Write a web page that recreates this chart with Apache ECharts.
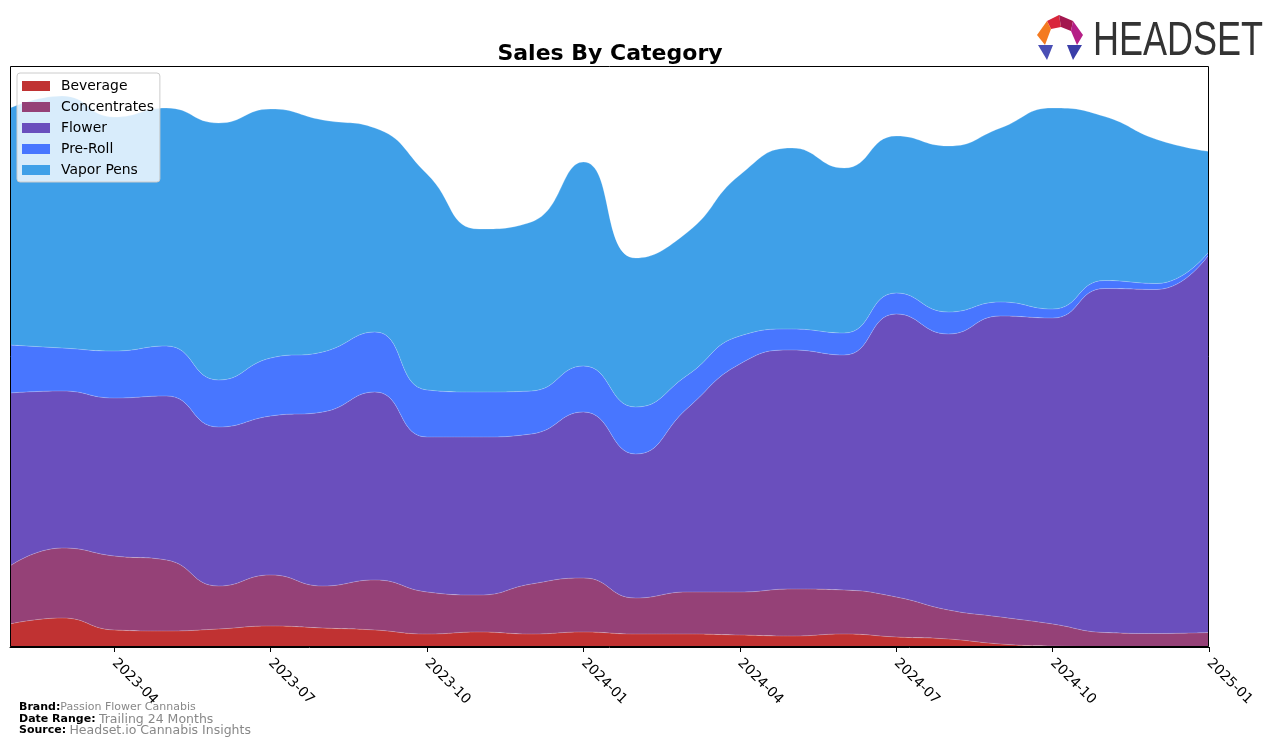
<!DOCTYPE html>
<html>
<head>
<meta charset="utf-8">
<script src="https://cdn.jsdelivr.net/npm/echarts@6/dist/echarts.min.js"></script>
<style>
html,body{margin:0;padding:0;background:#fff;}
#chart{width:1276px;height:746px;}
</style>
</head>
<body>
<div id="chart"></div>
<script>
// Monthly categories (first of month)
const months = ["2023-02","2023-03","2023-04","2023-05","2023-06","2023-07","2023-08","2023-09","2023-10","2023-11","2023-12",
  "2024-01","2024-02","2024-03","2024-04","2024-05","2024-06","2024-07","2024-08","2024-09","2024-10","2024-11","2024-12","2025-01"];
const tickMonths = ["2023-04","2023-07","2023-10","2024-01","2024-04","2024-07","2024-10","2025-01"];

// Sales by category (relative units)
const beverage    = [23,29,17,16,18,21,19,17,13,15,13,15,13,13,12,11,13,10,8,3,1,0.5,0.5,0.5];
const concentrates= [58,70,74,71,43,51,42,50,42,37,50,54,36,42,43,47,44,40,29,27,22,14,13,14];
const flower      = [173,157,158,164,159,159,174,188,155,158,150,166,144,184,228,239,235,283,276,301,306,344,344,378];
const preRoll     = [48,43,47,50,47,58,60,60,47,45,43,46,47,33,28,21,22,21,22,14,9,8,6,3];
const vaporPens   = [237,252,234,238,257,249,232,204,216,163,169,204,149,143,161,181,165,157,166,174,201,164,144,100];

const seriesNames = ["Beverage","Concentrates","Flower","Pre-Roll","Vapor Pens"];
const seriesData = [beverage, concentrates, flower, preRoll, vaporPens];
const colors = ["#c03232","#954177","#6a4fbd","#4876ff","#3fa0e8"];

const FONT = "DejaVu Sans";
const chart = echarts.init(document.getElementById('chart'));

const option = {
  animation: false,
  backgroundColor: '#fff',
  title: {
    text: 'Sales By Category',
    left: 605, top: 38, textAlign: 'center',
    textStyle: {fontFamily: FONT, fontSize: 22, fontWeight: 'bold', color: '#000'}
  },
  legend: {
    orient: 'vertical', left: 17, top: 73,
    itemWidth: 28, itemHeight: 10, itemGap: 7,
    icon: 'rect',
    backgroundColor: 'rgba(255,255,255,0.8)',
    borderColor: '#cccccc', borderWidth: 1, borderRadius: 3,
    padding: [6, 6, 5, 5],
    textStyle: {fontFamily: FONT, fontSize: 13.9, color: '#000', padding: [0,0,0,6]},
    data: seriesNames
  },
  grid: {left: 10, right: 67, top: 66, bottom: 99, containLabel: false},
  xAxis: {
    type: 'category',
    data: months,
    boundaryGap: false,
    axisLine: {show: true, lineStyle: {color: '#000', width: 1}},
    axisTick: {show: true, length: 5, lineStyle: {color: '#000'},
      interval: (i, v) => tickMonths.includes(v)},
    axisLabel: {
      interval: (i, v) => tickMonths.includes(v),
      rotate: -45, margin: 14,
      fontFamily: FONT, fontSize: 13.9, color: '#000'
    },
    splitLine: {show: false}
  },
  yAxis: {
    type: 'value', min: 0, max: 581, show: false
  },
  graphic: [
    {type: 'rect', z: 100, silent: true,
      shape: {x: 10.5, y: 66.5, width: 1198, height: 580}, style: {fill: 'none', stroke: '#000', lineWidth: 1}},
    {type: 'text', left: 19, top: 702, z: 100,
      style: {rich: {b: {fontFamily: FONT, fontWeight: 'bold', fontSize: 11, fill: '#000'},
                     g: {fontFamily: FONT, fontSize: 11, fill: '#888'}},
              text: '{b|Brand:}{g|Passion Flower Cannabis}'}},
    {type: 'text', left: 19, top: 713, z: 100,
      style: {rich: {b: {fontFamily: FONT, fontWeight: 'bold', fontSize: 11, fill: '#000'},
                     g: {fontFamily: FONT, fontSize: 12.5, fill: '#888'}},
              text: '{b|Date Range:} {g|Trailing 24 Months}'}},
    {type: 'text', left: 19, top: 724, z: 100,
      style: {rich: {b: {fontFamily: FONT, fontWeight: 'bold', fontSize: 11, fill: '#000'},
                     g: {fontFamily: FONT, fontSize: 12.5, fill: '#888'}},
              text: '{b|Source:} {g|Headset.io Cannabis Insights}'}},
    // HEADSET logo
    {type: 'group', x: 1037, y: 15, z: 100, children: [
      {type: 'polygon', shape: {points: [[10,6],[22,0],[24,12],[14,14]]}, style: {fill: '#d9263b'}},
      {type: 'polygon', shape: {points: [[22,0],[36,6],[34,16],[24,12]]}, style: {fill: '#a3174f'}},
      {type: 'polygon', shape: {points: [[36,6],[46,20],[40,30],[34,16]]}, style: {fill: '#b51f86'}},
      {type: 'polygon', shape: {points: [[10,6],[14,14],[8,30],[0,20]]}, style: {fill: '#f47a20'}},
      {type: 'polygon', shape: {points: [[1,30],[16,30],[10,45]]}, style: {fill: '#4a4fb5'}},
      {type: 'polygon', shape: {points: [[30,30],[45,30],[36,45]]}, style: {fill: '#3a3ea8'}},
      {type: 'text', x: 56, y: 2, scaleX: 0.735,
        style: {text: 'HEADSET', fontFamily: 'Liberation Sans', fontSize: 49, fill: '#333'}}
    ]}
  ],
  series: seriesNames.map((name, k) => ({
    name: name,
    type: 'line',
    stack: 'total',
    data: seriesData[k],
    smooth: 0.5,
    showSymbol: false,
    symbol: 'none',
    lineStyle: {width: 0.6, color: 'rgba(255,255,255,0.35)'},
    itemStyle: {color: colors[k]},
    areaStyle: {color: colors[k], opacity: 1}
  }))
};
chart.setOption(option);
</script>
</body>
</html>
